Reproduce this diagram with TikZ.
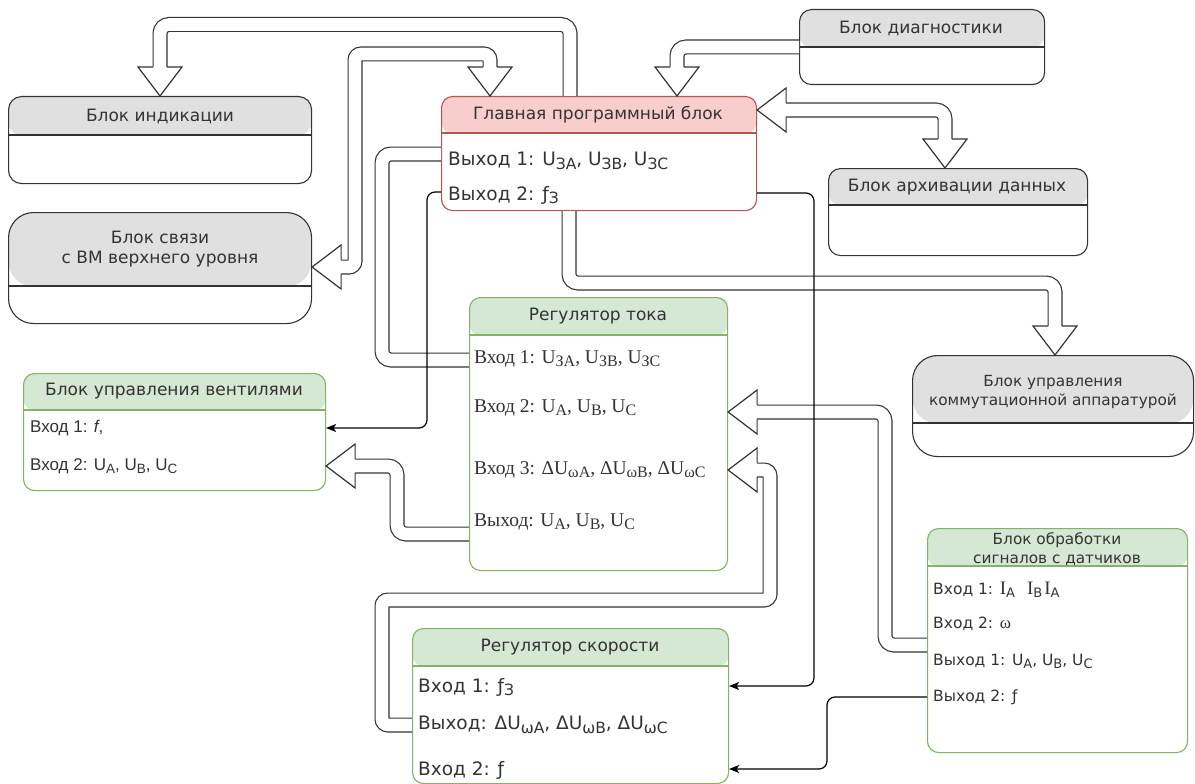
\documentclass[tikz,border=0pt]{standalone}
\usepackage{fontspec}
\setmainfont{DejaVu Sans}
\newfontfamily\tnr{Liberation Serif}
\newfontfamily\ari{Liberation Sans}
\usetikzlibrary{arrows.meta,calc}
\definecolor{grayhdr}{HTML}{E0E0E0}
\definecolor{grayln}{HTML}{333333}
\definecolor{redhdr}{HTML}{F8CECC}
\definecolor{redln}{HTML}{B85450}
\definecolor{grnhdr}{HTML}{D5E8D4}
\definecolor{grnln}{HTML}{82B366}
\definecolor{txt}{HTML}{333333}
\newcommand\lo[1]{\raisebox{-0.35ex}{\fontsize{15.5}{15}\selectfont #1}}
\newcommand\loS[1]{\raisebox{-0.35ex}{\fontsize{13}{13}\selectfont #1}}
\newcommand\loT[1]{\raisebox{-0.35ex}{\fontsize{16}{15}\selectfont #1}}
\newcommand\loA[1]{\raisebox{-0.35ex}{\fontsize{13.5}{14}\selectfont #1}}
\newcommand\bigI{{\tnr\fontsize{19}{18}\selectfont I}}
\newcommand\swimbox[9]{%
  \node[swim={#8}{#9}{#6}{#7}, minimum width=#4pt, minimum height=#5pt] (#1) at (#2,#3) {};
  \draw[#9, line width=1.1pt] ([yshift=-#6pt]#1.north west) -- ([yshift=-#6pt]#1.north east);
}
\begin{document}
\begin{tikzpicture}[x=1pt,y=-1pt,
  swim/.style n args={4}{draw=#2, fill=white, line width=1.1pt, rounded corners=#4, inner sep=0pt, anchor=north west,
    path picture={\fill[#1] (path picture bounding box.north west) rectangle ([yshift=-#3pt]path picture bounding box.north east);}},
  ttl/.style={font=\fontsize{17}{20}\selectfont, text=txt, align=center, inner sep=0pt},
  ttls/.style={font=\fontsize{15.3}{19.5}\selectfont, text=txt, align=center, inner sep=0pt},
  item/.style={font=\fontsize{18.5}{18}\selectfont, text=txt, anchor=west, inner sep=0pt},
  items/.style={font=\fontsize{15.5}{18}\selectfont, text=txt, anchor=west, inner sep=0pt},
  itemtnr/.style={font=\tnr\fontsize{19.5}{18}\selectfont, text=txt, anchor=west, inner sep=0pt},
  itemari/.style={font=\ari\fontsize{17}{18}\selectfont, text=txt, anchor=west, inner sep=0pt},
  flex/.style={draw=grayln, double=white, double distance=12.6pt, line width=1.2pt, rounded corners=9pt},
  thin/.style={draw=black, line width=1.2pt, rounded corners=8pt, -{Stealth[length=10pt,width=8pt,inset=2.5pt]}},
  fhead/.pic={\fill[white] (0,0) -- (-29,22) -- (-29,-22) -- cycle;
    \draw[grayln, line width=1.2pt, line join=miter] (-29,6.9) -- (-29,22) -- (0,0) -- (-29,-22) -- (-29,-6.9);}
]
\useasboundingbox (0,0) rectangle (1195,784);
\fill[white] (0,0) rectangle (1195,784);

% ---------- boxes
\swimbox{ind}{8}{96}{303}{87}{39}{13pt}{grayhdr}{grayln}
\swimbox{svz}{8}{212}{303}{111}{74}{25pt}{grayhdr}{grayln}
\swimbox{diag}{799}{9}{245}{75}{38}{12pt}{grayhdr}{grayln}
\swimbox{arch}{828}{168}{259}{87}{37}{12pt}{grayhdr}{grayln}
\swimbox{komm}{912}{355}{281}{101}{68}{25pt}{grayhdr}{grayln}
\swimbox{main}{441}{96}{315}{114}{37}{11pt}{redhdr}{redln}
\swimbox{tok}{469}{297}{258}{273}{38}{11pt}{grnhdr}{grnln}
\swimbox{vent}{23}{373}{302}{117}{37}{11pt}{grnhdr}{grnln}
\swimbox{skor}{412}{628}{316}{155}{38}{11pt}{grnhdr}{grnln}
\swimbox{obr}{927}{528}{260}{224}{38}{11pt}{grnhdr}{grnln}

% ---------- titles
\node[ttl] (tind) at (160,116) {Блок индикации};
\node[ttl] (tsvz) at (160,249) {Блок связи\\с ВМ верхнего уровня};
\node[ttl] (tdiag) at (921,28) {Блок диагностики};
\node[ttl] (tarch) at (957,187) {Блок архивации данных};
\node[ttls] (tkomm) at (1053,392) {Блок управления\\коммутационной аппаратурой};
\node[ttl] (tmain) at (598,115) {Главная программный блок};
\node[ttl] (ttok) at (598,316) {Регулятор тока};
\node[ttl] (tvent) at (174,391) {Блок управления вентилями};
\node[ttl] (tskor) at (570,647) {Регулятор скорости};
\node[ttls] (tobr) at (1057,549) {Блок обработки\\сигналов с датчиков};

% ---------- items
\node[item] (m1) at (448,161) {Выход 1: U\lo{ЗA}, U\lo{ЗB}, U\lo{ЗC}};
\node[item] (m2) at (448,195) {Выход 2: ƒ\lo{З}};

\node[itemtnr] (k1) at (474,359) {Вход 1: U\loT{ЗA}, U\loT{ЗB}, U\loT{ЗC}};
\node[itemtnr] (k2) at (474,408) {Вход 2: U\loT{A}, U\loT{B}, U\loT{C}};
\node[itemtnr] (k3) at (474,470) {Вход 3: ΔU\loT{ωA}, ΔU\loT{ωB}, ΔU\loT{ωC}};
\node[itemtnr] (k4) at (474,522) {Выход: U\loT{A}, U\loT{B}, U\loT{C}};

\node[itemari] (v1) at (30,428) {Вход 1: \textit{f},};
\node[itemari] (v2) at (30,466) {Вход 2: U\loA{A}, U\loA{B}, U\loA{C}};

\node[item] (s1) at (418,687) {Вход 1: ƒ\lo{З}};
\node[item] (s2) at (418,725) {Выход: ΔU\lo{ωA}, ΔU\lo{ωB}, ΔU\lo{ωC}};
\node[item] (s3) at (418,770) {Вход 2: ƒ};

\node[items] (o1) at (933,590) {Вход 1: \bigI\loS{A}\hspace{12pt}\bigI\loS{B}\hspace{2pt}\bigI\loS{A}};
\node[items] (o2) at (933,624) {Вход 2: {\tnr\fontsize{17}{18}\selectfont ω}};
\node[items] (o3) at (933,661) {Выход 1: U\loS{A}, U\loS{B}, U\loS{C}};
\node[items] (o4) at (933,697) {Выход 2: ƒ};

% ---------- block arrows (double outlines)
% A: main -> indication
\draw[flex] (570,0 |- main.north) -- (570,24.5) -- (160,24.5) -- (160,67);
\pic[rotate=-90] at (160,0 |- ind.north) {fhead};
% B: svyaz <-> main
\draw[flex, rounded corners=6pt] (340,267) -- (355,267) -- (355,54) -- (490,54) -- (490,67);
\pic[rotate=-90] at (490,0 |- main.north) {fhead};
\pic[rotate=180] at (svz.east |- 0,267) {fhead};
% C: diag -> main
\draw[flex] (diag.west |- 0,47) -- (677,47) -- (677,67);
\pic[rotate=-90] at (677,0 |- main.north) {fhead};
% D: main <-> archive
\draw[flex] (785,110) -- (945,110) -- (945,139);
\pic[rotate=180] at (main.east |- 0,110) {fhead};
\pic[rotate=-90] at (945,0 |- arch.north) {fhead};
% E: main -> komm
\draw[flex] (569,0 |- main.south) -- (569,283) -- (1055,283) -- (1055,326);
\pic[rotate=-90] at (1055,0 |- komm.north) {fhead};
% F: main out1 -> tok in1 (no heads)
\draw[flex] (main.west |- 0,154) -- (382,154) -- (382,360) -- (tok.west |- 0,360);
% I: tok out -> vent in2
\draw[flex] (tok.west |- 0,534) -- (397,534) -- (397,466) -- (354,466);
\pic[rotate=180] at (vent.east |- 0,466) {fhead};
% J: obr out1 -> tok in2
\draw[flex] (obr.west |- 0,645) -- (885,645) -- (885,412) -- (756,412);
\pic[rotate=180] at (tok.east |- 0,412) {fhead};
% K: skor out -> tok in3
\draw[flex, rounded corners=6pt] (skor.west |- 0,725) -- (382,725) -- (382,600) -- (770,600) -- (770,470) -- (756,470);
\pic[rotate=180] at (tok.east |- 0,470) {fhead};

% ---------- thin connectors
\draw[thin] (main.west |- 0,192) -- (427,192) -- (427,428) -- (vent.east |- 0,428);
\draw[thin] (main.east |- 0,193) -- (814,193) -- (814,686) -- (skor.east |- 0,686);
\draw[thin] (obr.west |- 0,697) -- (827,697) -- (827,769) -- (skor.east |- 0,769);
\end{tikzpicture}
\end{document}
